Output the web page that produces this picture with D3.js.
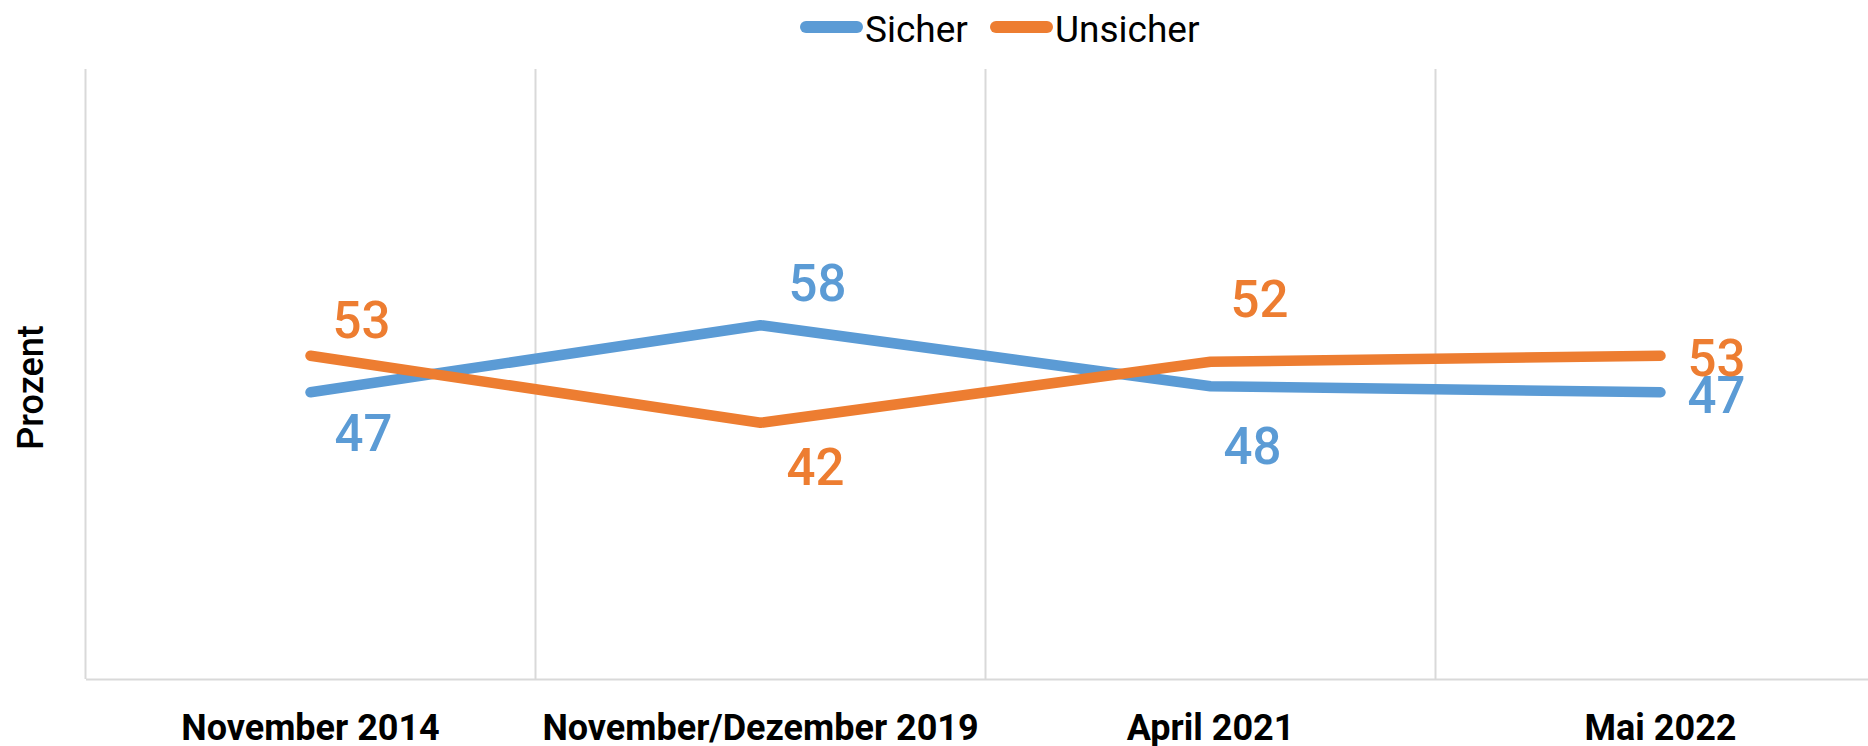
<!doctype html>
<html lang="de">

<head>
  <meta charset="utf-8">
  <title>Sicher / Unsicher</title>
  <style>
    body {
      margin: 0;
      background: #fff;
    }

    svg {
      display: block;
      font-family: Roboto, "DejaVu Sans", sans-serif;
    }

    .grid line {
      stroke: #d9d9d9;
      stroke-width: 2px;
    }

    .xaxis path {
      stroke: #d9d9d9;
      stroke-width: 2px;
    }

    .xaxis text {
      font-size: 36px;
      font-weight: bold;
      fill: #000;
    }

    .series {
      fill: none;
      stroke-width: 10.5px;
      stroke-linecap: round;
      stroke-linejoin: round;
    }

    .label {
      font-size: 51px;
      font-weight: 500;
    }

    .legend text {
      font-size: 37px;
      fill: #000;
    }
  </style>
</head>

<body>
  <svg width="1868" height="746"></svg>

  <script src="https://d3js.org/d3.v7.min.js"></script>
  <script>
    // data
    var categories = ["November 2014", "November/Dezember 2019", "April 2021", "Mai 2022"];
    var sicher = [47, 58, 48, 47];
    var unsicher = [53, 42, 52, 53];
    var seriesNames = ["Sicher", "Unsicher"];
    var seriesColors = ["#5b9bd5", "#ed7d31"];

    // where each data label was dragged to, relative to its point (dx to label centre, dy to baseline)
    var labelNudge = [
      [[53, 59], [57, -24], [42, 78], [27, 21]],
      [[51, -18], [55, 62], [49, -45], [27, 20]]
    ];

    var svg = d3.select("svg"),
      plotLeft = 85.5,
      plotTop = 69,
      plotBottom = 679;

    var x = d3.scaleBand()
      .domain(categories)
      .range([plotLeft, plotLeft + 4 * 450]);

    var y = d3.scaleLinear()
      .domain([0, 100])
      .range([plotBottom, plotTop]);

    var series = [sicher, unsicher];

    // vertical gridlines at category boundaries
    svg.append("g")
      .attr("class", "grid")
      .selectAll("line")
      .data(categories)
      .enter().append("line")
      .attr("x1", function (d) { return x(d); })
      .attr("x2", function (d) { return x(d); })
      .attr("y1", plotTop)
      .attr("y2", plotBottom);

    var xAxis = svg.append("g")
      .attr("class", "xaxis")
      .attr("transform", "translate(0," + plotBottom + ")")
      .call(d3.axisBottom(x).tickSize(0).tickSizeOuter(0));

    xAxis.selectAll(".tick line").remove();
    xAxis.selectAll("text")
      .attr("dy", null)
      .attr("y", 61);
    xAxis.attr("font-family", null).attr("font-size", null);

    var line = d3.line()
      .x(function (d, i) { return x(categories[i]) + x.bandwidth() / 2; })
      .y(function (d) { return y(d); });

    svg.selectAll(".series")
      .data(series)
      .enter().append("path")
      .attr("class", "series")
      .attr("stroke", function (d, i) { return seriesColors[i]; })
      .attr("d", line);

    series.forEach(function (values, s) {
      svg.append("g")
        .selectAll("text")
        .data(values)
        .enter().append("text")
        .attr("class", "label")
        .attr("fill", seriesColors[s])
        .attr("text-anchor", function (d, i) { return i === values.length - 1 ? "start" : "middle"; })
        .attr("x", function (d, i) { return x(categories[i]) + x.bandwidth() / 2 + labelNudge[s][i][0]; })
        .attr("y", function (d, i) { return y(d) + labelNudge[s][i][1]; })
        .text(function (d) { return d; });
    });

    // y axis title
    svg.append("text")
      .attr("transform", "translate(43,387.5) rotate(-90)")
      .attr("text-anchor", "middle")
      .style("font-size", "36px")
      .style("font-weight", 500)
      .text("Prozent");

    // legend
    var legendX = [800, 990];
    var legend = svg.append("g")
      .attr("class", "legend")
      .selectAll("g")
      .data(seriesNames)
      .enter().append("g")
      .attr("transform", function (d, i) { return "translate(" + legendX[i] + ",0)"; });

    legend.append("line")
      .attr("x1", 6)
      .attr("x2", 57)
      .attr("y1", 27)
      .attr("y2", 27)
      .attr("stroke", function (d, i) { return seriesColors[i]; })
      .attr("stroke-width", 12)
      .attr("stroke-linecap", "round");

    legend.append("text")
      .attr("x", 65)
      .attr("y", 41.5)
      .text(function (d) { return d; });
  </script>
</body>

</html>
